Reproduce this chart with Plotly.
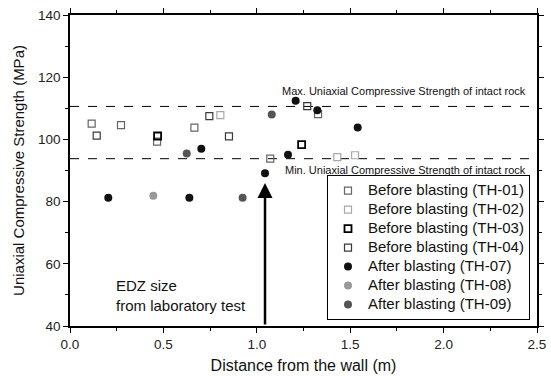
import plotly.graph_objects as go

# Before blasting: distance from wall (m) and UCS (MPa)
th01_x = [0.116, 0.273, 0.466, 0.666, 1.072, 1.328]
th01_y = [105.1, 104.6, 99.3, 103.8, 93.8, 108.1]
th02_x = [0.805, 1.431, 1.526]
th02_y = [107.8, 94.3, 94.9]
th03_x = [0.469, 1.240]
th03_y = [101.1, 98.3]
th04_x = [0.143, 0.746, 0.851, 1.270]
th04_y = [101.2, 107.5, 101.0, 110.7]

# After blasting
th07_x = [0.205, 0.639, 0.703, 1.044, 1.167, 1.208, 1.324, 1.540]
th07_y = [81.2, 81.2, 97.0, 89.1, 95.1, 112.4, 109.4, 103.8]
th08_x = [0.446]
th08_y = [81.9]
th09_x = [0.625, 0.924, 1.080]
th09_y = [95.5, 81.2, 108.0]

ucs_max = 110.6
ucs_min = 93.8
edz_size = 1.044
arrow_tip = 86.0

FONT = "Liberation Sans, Arial, sans-serif"

fig = go.Figure()


def label(text):
    # legend rows are spaced by the legend font size; entry text is drawn larger
    return f'<span style="font-size:15px">{text}</span>'


def before(name, xs, ys, color, lw=1.2):
    fig.add_trace(go.Scatter(
        x=xs, y=ys, mode="markers", name=label(name),
        marker=dict(symbol="square-open", size=7, color=color,
                    line=dict(width=lw, color=color))))


def after(name, xs, ys, color):
    fig.add_trace(go.Scatter(
        x=xs, y=ys, mode="markers", name=label(name),
        marker=dict(symbol="circle", size=8, color=color)))


before("Before blasting (TH-01)", th01_x, th01_y, "#666666")
before("Before blasting (TH-02)", th02_x, th02_y, "#a8a8a8")
before("Before blasting (TH-03)", th03_x, th03_y, "#000000", 1.8)
before("Before blasting (TH-04)", th04_x, th04_y, "#3a3a3a")
after("After blasting (TH-07)", th07_x, th07_y, "#111111")
after("After blasting (TH-08)", th08_x, th08_y, "#999999")
after("After blasting (TH-09)", th09_x, th09_y, "#555555")

# Intact rock strength bounds
for yv in (ucs_max, ucs_min):
    fig.add_shape(type="line", xref="x", yref="y", x0=0, x1=2.5, y0=yv, y1=yv,
                  line=dict(color="black", width=1, dash="dash"), layer="below")

fig.add_annotation(x=2.45, y=ucs_max, xref="x", yref="y", xanchor="right", yanchor="bottom",
                   text="Max. Uniaxial Compressive Strength of intact rock", showarrow=False,
                   font=dict(family=FONT, size=11, color="#111"), yshift=7)
fig.add_annotation(x=2.45, y=ucs_min, xref="x", yref="y", xanchor="right", yanchor="top",
                   text="Min. Uniaxial Compressive Strength of intact rock", showarrow=False,
                   font=dict(family=FONT, size=11, color="#111"), yshift=-3)

# EDZ arrow
fig.add_annotation(x=edz_size, y=arrow_tip, ax=edz_size, ay=40, xref="x", yref="y",
                   axref="x", ayref="y", showarrow=True, arrowhead=2, arrowsize=1.2,
                   arrowwidth=2.5, arrowcolor="black", text="")
fig.add_annotation(x=0.235, y=49.8, xref="x", yref="y", xanchor="left", yanchor="middle",
                   text="EDZ size<br>from laboratory test", showarrow=False, align="left",
                   font=dict(family=FONT, size=15, color="#111"))

axis_common = dict(
    showline=True, linecolor="black", linewidth=1.5, mirror="allticks",
    ticks="outside", ticklen=5, tickwidth=1, tickcolor="black",
    showgrid=False, zeroline=False, automargin=False,
    tickfont=dict(family=FONT, size=13.5, color="#222"),
)

fig.update_xaxes(range=[0, 2.5], dtick=0.5, tickformat=".1f",
                 minor=dict(dtick=0.25, ticks="outside", ticklen=3, tickcolor="black"),
                 title=dict(text="Distance from the wall (m)", font=dict(family=FONT, size=16, color="#111"),
                            standoff=9),
                 **axis_common)
fig.update_yaxes(range=[40, 140], dtick=20,
                 minor=dict(dtick=10, ticks="outside", ticklen=3, tickcolor="black"),
                 title=dict(text="Uniaxial Compressive Strength (MPa)", font=dict(family=FONT, size=15, color="#111"),
                            standoff=10),
                 **axis_common)

fig.update_layout(
    width=551, height=376,
    margin=dict(l=70, r=14, t=15, b=50),
    paper_bgcolor="white", plot_bgcolor="white",
    font=dict(family=FONT, color="#111"),
    showlegend=True,
    legend=dict(x=0.985, y=0.019, xanchor="right", yanchor="bottom",
                bordercolor="black", borderwidth=1, bgcolor="white",
                font=dict(family=FONT, size=11, color="#111"),
                tracegroupgap=0, itemwidth=30),
)

fig.write_html("out.html")
